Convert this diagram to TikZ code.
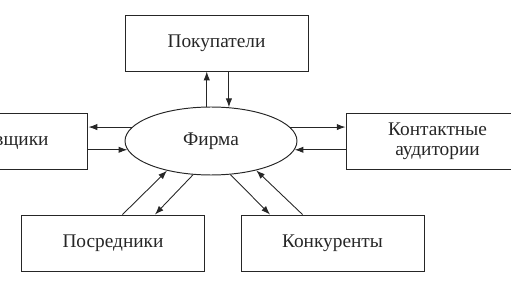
\documentclass[tikz,border=0pt]{standalone}
\usepackage{fontspec}
\setmainfont{Liberation Serif}
\usetikzlibrary{arrows.meta, shapes.geometric}

\begin{document}
\begin{tikzpicture}[
    x=0.02cm, y=-0.02cm,
    font=\fontsize{11}{11.5}\selectfont,
    block/.style={rectangle, draw=black!85, line width=0.55pt, minimum width=3.66cm, minimum height=1.12cm, inner sep=2pt, align=center, text=black!85},
    firm/.style={ellipse, draw=black!85, line width=0.55pt, minimum width=3.44cm, minimum height=1.36cm, inner sep=0pt, text=black!85},
    link/.style={draw=black!85, line width=0.5pt, -{Latex[length=5pt, width=3.6pt]}}
  ]
  \useasboundingbox (0,0) rectangle (511,287);
  \clip (0,0) rectangle (511,287);

  % Firm in the middle
  \node[firm] (firm) at (211,141) {Фирма};

  % Surrounding boxes
  \node[block] (buyers) at (216.5,43) {Покупатели};
  \node[block] (suppliers) at (-3.5,141) {Поставщики};
  \node[block] (audience) at (437.5,141) {Контактные\\аудитории};
  \node[block] (middlemen) at (113,243) {Посредники};
  \node[block] (rivals) at (332.5,243) {Конкуренты};

  % Firm <-> Buyers
  \draw[link] (firm.97) -- (firm.97 |- buyers.south);
  \draw[link] (buyers.south -| firm.62) -- (firm.62);

  % Firm <-> Suppliers
  \draw[link] (firm.170) -- (firm.170 -| suppliers.east);
  \draw[link] (suppliers.east |- firm.186) -- (firm.186);

  % Firm <-> Audience
  \draw[link] (firm.10) -- (firm.10 -| audience.west);
  \draw[link] (audience.west |- firm.354) -- (firm.354);

  % Firm <-> Middlemen
  \draw[link] ([xshift=0.19cm]middlemen.north) -- (firm.214);
  \draw[link] (firm.242) -- ([xshift=0.84cm]middlemen.north);

  % Firm <-> Rivals
  \draw[link] (firm.300) -- ([xshift=-1.25cm]rivals.north);
  \draw[link] ([xshift=-0.6cm]rivals.north) -- (firm.327);
\end{tikzpicture}
\end{document}
